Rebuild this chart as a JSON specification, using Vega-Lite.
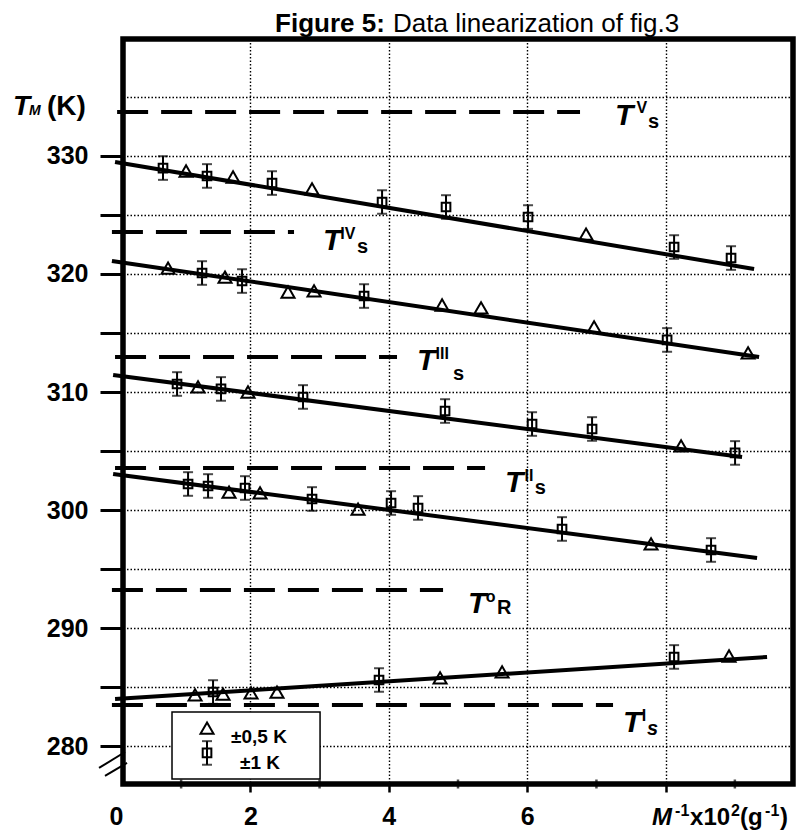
{
  "$schema": "https://vega.github.io/schema/vega-lite/v6.json",
  "width": 670,
  "height": 745,
  "autosize": {"type": "none"},
  "padding": {"left": 123, "top": 39, "right": 3, "bottom": 55},
  "background": "white",
  "config": {
    "view": {"stroke": "black", "strokeWidth": 5.5},
    "font": "Liberation Sans",
    "axis": {
      "domain": false,
      "grid": true,
      "gridColor": "black",
      "gridDash": [1.5, 2],
      "gridWidth": 1.4,
      "tickColor": "black",
      "labelColor": "black",
      "labelFont": "Liberation Sans",
      "labelFontWeight": "bold",
      "labelFontSize": 25,
      "labelFlush": false,
      "labelOverlap": false
    },
    "text": {"font": "Liberation Sans", "color": "black"}
  },
  "datasets": {
    "fits": [
      {"g": 1, "x": 0.045, "y": 329.48}, {"g": 1, "x": 9.278, "y": 320.42},
      {"g": 2, "x": 0.0, "y": 321.10}, {"g": 2, "x": 9.350, "y": 312.97},
      {"g": 3, "x": 0.017, "y": 311.44}, {"g": 3, "x": 9.104, "y": 304.50},
      {"g": 4, "x": 0.017, "y": 303.06}, {"g": 4, "x": 9.321, "y": 295.94},
      {"g": 5, "x": 0.045, "y": 284.00}, {"g": 5, "x": 9.465, "y": 287.56}
    ],
    "dashes": [
      {"x": 0.075, "x2": 6.763, "y": 333.72},
      {"x": 0.0, "x2": 2.631, "y": 323.55},
      {"x": 0.045, "x2": 4.119, "y": 312.97},
      {"x": 0.045, "x2": 5.391, "y": 303.57},
      {"x": 0.0, "x2": 4.784, "y": 293.23},
      {"x": 0.0, "x2": 7.240, "y": 283.49}
    ],
    "squares": [
      {"x": 0.738, "y": 328.97, "lo": 327.97, "hi": 329.97},
      {"x": 1.374, "y": 328.30, "lo": 327.30, "hi": 329.30},
      {"x": 2.313, "y": 327.70, "lo": 326.70, "hi": 328.70},
      {"x": 3.903, "y": 326.09, "lo": 325.09, "hi": 327.09},
      {"x": 4.827, "y": 325.67, "lo": 324.67, "hi": 326.67},
      {"x": 6.012, "y": 324.82, "lo": 323.82, "hi": 325.82},
      {"x": 8.122, "y": 322.28, "lo": 321.28, "hi": 323.28},
      {"x": 8.945, "y": 321.35, "lo": 320.35, "hi": 322.35},
      {"x": 1.302, "y": 320.08, "lo": 319.08, "hi": 321.08},
      {"x": 1.880, "y": 319.40, "lo": 318.40, "hi": 320.40},
      {"x": 3.643, "y": 318.13, "lo": 317.13, "hi": 319.13},
      {"x": 8.021, "y": 314.41, "lo": 313.41, "hi": 315.41},
      {"x": 0.941, "y": 310.68, "lo": 309.68, "hi": 311.68},
      {"x": 1.576, "y": 310.26, "lo": 309.26, "hi": 311.26},
      {"x": 2.761, "y": 309.58, "lo": 308.58, "hi": 310.58},
      {"x": 4.813, "y": 308.39, "lo": 307.39, "hi": 309.39},
      {"x": 6.070, "y": 307.29, "lo": 306.29, "hi": 308.29},
      {"x": 6.937, "y": 306.87, "lo": 305.87, "hi": 307.87},
      {"x": 9.003, "y": 304.84, "lo": 303.84, "hi": 305.84},
      {"x": 1.100, "y": 302.21, "lo": 301.21, "hi": 303.21},
      {"x": 1.389, "y": 302.04, "lo": 301.04, "hi": 303.04},
      {"x": 1.923, "y": 301.87, "lo": 300.87, "hi": 302.87},
      {"x": 2.891, "y": 300.94, "lo": 299.94, "hi": 301.94},
      {"x": 4.033, "y": 300.60, "lo": 299.60, "hi": 301.60},
      {"x": 4.423, "y": 300.18, "lo": 299.18, "hi": 301.18},
      {"x": 6.503, "y": 298.40, "lo": 297.40, "hi": 299.40},
      {"x": 8.656, "y": 296.62, "lo": 295.62, "hi": 297.62},
      {"x": 1.461, "y": 284.59, "lo": 283.59, "hi": 285.59},
      {"x": 3.859, "y": 285.61, "lo": 284.61, "hi": 286.61},
      {"x": 8.122, "y": 287.56, "lo": 286.56, "hi": 288.56},
      {"x": 1.374, "y": 279.43, "lo": 278.43, "hi": 280.43}
    ],
    "triangles": [
      {"x": 1.071, "y": 328.72}, {"x": 1.750, "y": 328.21}, {"x": 2.891, "y": 327.20}, {"x": 6.850, "y": 323.38},
      {"x": 0.811, "y": 320.50}, {"x": 1.634, "y": 319.74}, {"x": 2.544, "y": 318.47}, {"x": 2.920, "y": 318.56},
      {"x": 4.770, "y": 317.37}, {"x": 5.333, "y": 317.12}, {"x": 6.966, "y": 315.51}, {"x": 9.191, "y": 313.31},
      {"x": 1.244, "y": 310.43}, {"x": 1.966, "y": 310.00}, {"x": 8.223, "y": 305.43},
      {"x": 1.692, "y": 301.53}, {"x": 2.140, "y": 301.45}, {"x": 3.556, "y": 300.09}, {"x": 7.789, "y": 297.13},
      {"x": 1.201, "y": 284.34}, {"x": 1.605, "y": 284.42}, {"x": 2.010, "y": 284.51}, {"x": 2.385, "y": 284.59},
      {"x": 4.741, "y": 285.78}, {"x": 5.637, "y": 286.29}, {"x": 8.916, "y": 287.64},
      {"x": 1.374, "y": 281.54}
    ],
    "legendBox": [{"x": 0.868, "x2": 3.007, "y": 282.90, "y2": 277.23}],
    "legendText": [
      {"text": "±0,5 K", "x": 2.125, "y": 280.78},
      {"text": "±1 K", "x": 2.140, "y": 278.58}
    ],
    "titleBold": [{"text": "Figure 5:", "x": 2.357, "y": 340.49}],
    "titlePlain": [{"text": "Data linearization of fig.3", "x": 4.062, "y": 340.49}],
    "bigT": [
      {"text": "T", "x": 7.269, "y": 332.62},
      {"text": "T", "x": 3.050, "y": 322.03},
      {"text": "T", "x": 4.408, "y": 311.87},
      {"text": "T", "x": 5.680, "y": 301.53},
      {"text": "T", "x": 5.145, "y": 291.29},
      {"text": "T", "x": 7.385, "y": 281.21}
    ],
    "sups": [
      {"text": "V", "x": 7.580, "y": 333.63},
      {"text": "IV", "x": 3.300, "y": 322.96},
      {"text": "III", "x": 4.675, "y": 312.80},
      {"text": "II", "x": 5.960, "y": 302.47},
      {"text": "o", "x": 5.400, "y": 292.22},
      {"text": "I", "x": 7.655, "y": 282.14},
      {"text": "-1", "x": 8.136, "y": 274.09},
      {"text": "2", "x": 8.945, "y": 274.09},
      {"text": "-1", "x": 9.437, "y": 274.09}
    ],
    "subs": [
      {"text": "s", "x": 7.746, "y": 332.36},
      {"text": "s", "x": 3.542, "y": 321.78},
      {"text": "s", "x": 4.929, "y": 311.02},
      {"text": "s", "x": 6.110, "y": 301.36},
      {"text": "R", "x": 5.564, "y": 291.20}
    ],
    "subsItalic": [{"text": "s", "x": 7.732, "y": 280.95}],
    "yTitleT": [{"text": "T", "x": -1.429, "y": 333.46}],
    "yTitleM": [{"text": "M", "x": -1.198, "y": 333.46}],
    "yTitleK": [{"text": "(K)", "x": -0.938, "y": 333.46}],
    "xTitleItalic": [{"text": "M", "x": 7.804, "y": 273.33}],
    "xTitleBold": [
      {"text": "x10", "x": 8.353, "y": 273.33},
      {"text": "(g", "x": 9.075, "y": 273.33},
      {"text": ")", "x": 9.653, "y": 273.33}
    ],
    "breaks": [
      {"x": -0.186, "y": 278.16, "x2": 0.189, "y2": 279.51},
      {"x": -0.100, "y": 277.48, "x2": 0.218, "y2": 278.58}
    ],
    "minorTicks": [
      {"x": 1, "y": 276.8}, {"x": 3, "y": 276.8}, {"x": 5, "y": 276.8}, {"x": 7, "y": 276.8}, {"x": 9, "y": 276.8}
    ]
  },
  "layer": [
    {
      "data": {"name": "fits"},
      "mark": {"type": "line", "color": "black", "strokeWidth": 4},
      "encoding": {
        "x": {
          "field": "x", "type": "quantitative",
          "scale": {"domain": [0.16, 9.84], "nice": false, "zero": false},
          "axis": {
            "title": null,
            "values": [0.16, 2, 4, 6, 8],
            "labelExpr": "datum.value < 1 ? '0' : (datum.value > 7 ? '' : format(datum.value, 'd'))",
            "tickSize": 8,
            "tickWidth": 2.5,
            "labelPadding": 12,
            "labelAlign": {"condition": {"test": "datum.value < 1", "value": "right"}, "value": "center"},
            "gridOpacity": {"condition": {"test": "datum.value < 1", "value": 0}, "value": 1},
            "tickOpacity": {"condition": {"test": "datum.value < 1", "value": 0}, "value": 1}
          }
        },
        "y": {
          "field": "y", "type": "quantitative",
          "scale": {"domain": [276.8, 339.9], "nice": false, "zero": false},
          "axis": {
            "title": null,
            "values": [280, 285, 290, 295, 300, 305, 310, 315, 320, 325, 330, 335],
            "labelExpr": "(datum.value % 10 == 0 && datum.value < 333) ? datum.label : ''",
            "tickSize": 23,
            "tickWidth": 3,
            "labelPadding": 12,
            "labelBaseline": "middle",
            "tickOpacity": {"condition": {"test": "datum.value > 333", "value": 0}, "value": 1}
          }
        },
        "detail": {"field": "g", "type": "nominal"}
      }
    },
    {
      "data": {"name": "dashes"},
      "mark": {"type": "rule", "color": "black", "strokeWidth": 4, "strokeDash": [31, 13]},
      "encoding": {
        "x": {"field": "x", "type": "quantitative"},
        "x2": {"field": "x2"},
        "y": {"field": "y", "type": "quantitative"}
      }
    },
    {
      "data": {"name": "legendBox"},
      "mark": {"type": "rect", "fill": "white", "stroke": "black", "strokeWidth": 1.5},
      "encoding": {
        "x": {"field": "x", "type": "quantitative"},
        "x2": {"field": "x2"},
        "y": {"field": "y", "type": "quantitative"},
        "y2": {"field": "y2"}
      }
    },
    {
      "data": {"name": "squares"},
      "mark": {"type": "rule", "color": "black", "strokeWidth": 2},
      "encoding": {
        "x": {"field": "x", "type": "quantitative"},
        "y": {"field": "lo", "type": "quantitative"},
        "y2": {"field": "hi"}
      }
    },
    {
      "data": {"name": "squares"},
      "mark": {"type": "tick", "orient": "horizontal", "color": "black", "size": 10, "thickness": 2},
      "encoding": {
        "x": {"field": "x", "type": "quantitative"},
        "y": {"field": "lo", "type": "quantitative"}
      }
    },
    {
      "data": {"name": "squares"},
      "mark": {"type": "tick", "orient": "horizontal", "color": "black", "size": 10, "thickness": 2},
      "encoding": {
        "x": {"field": "x", "type": "quantitative"},
        "y": {"field": "hi", "type": "quantitative"}
      }
    },
    {
      "data": {"name": "squares"},
      "mark": {"type": "point", "shape": "square", "filled": false, "stroke": "black", "strokeWidth": 2, "size": 75, "opacity": 1},
      "encoding": {
        "x": {"field": "x", "type": "quantitative"},
        "y": {"field": "y", "type": "quantitative"}
      }
    },
    {
      "data": {"name": "triangles"},
      "mark": {"type": "point", "shape": "triangle-up", "filled": false, "stroke": "black", "strokeWidth": 2, "size": 170, "opacity": 1},
      "encoding": {
        "x": {"field": "x", "type": "quantitative"},
        "y": {"field": "y", "type": "quantitative"}
      }
    },
    {
      "data": {"name": "breaks"},
      "mark": {"type": "rule", "color": "black", "strokeWidth": 2},
      "encoding": {
        "x": {"field": "x", "type": "quantitative"},
        "y": {"field": "y", "type": "quantitative"},
        "x2": {"field": "x2"},
        "y2": {"field": "y2"}
      }
    },
    {
      "data": {"name": "minorTicks"},
      "mark": {"type": "tick", "orient": "vertical", "color": "black", "size": 9, "thickness": 2.5},
      "encoding": {
        "x": {"field": "x", "type": "quantitative"},
        "y": {"field": "y", "type": "quantitative"}
      }
    },
    {
      "data": {"name": "legendText"},
      "mark": {"type": "text", "fontSize": 19, "fontWeight": "bold", "align": "center", "baseline": "middle"},
      "encoding": {
        "x": {"field": "x", "type": "quantitative"},
        "y": {"field": "y", "type": "quantitative"},
        "text": {"field": "text"}
      }
    },
    {
      "data": {"name": "titleBold"},
      "mark": {"type": "text", "fontSize": 26, "fontWeight": "bold", "align": "left", "baseline": "alphabetic"},
      "encoding": {
        "x": {"field": "x", "type": "quantitative"},
        "y": {"field": "y", "type": "quantitative"},
        "text": {"field": "text"}
      }
    },
    {
      "data": {"name": "titlePlain"},
      "mark": {"type": "text", "fontSize": 26, "fontWeight": "normal", "align": "left", "baseline": "alphabetic"},
      "encoding": {
        "x": {"field": "x", "type": "quantitative"},
        "y": {"field": "y", "type": "quantitative"},
        "text": {"field": "text"}
      }
    },
    {
      "data": {"name": "bigT"},
      "mark": {"type": "text", "fontSize": 30, "fontWeight": "bold", "fontStyle": "italic", "align": "left", "baseline": "alphabetic"},
      "encoding": {
        "x": {"field": "x", "type": "quantitative"},
        "y": {"field": "y", "type": "quantitative"},
        "text": {"field": "text"}
      }
    },
    {
      "data": {"name": "sups"},
      "mark": {"type": "text", "fontSize": 16, "fontWeight": "bold", "align": "left", "baseline": "alphabetic"},
      "encoding": {
        "x": {"field": "x", "type": "quantitative"},
        "y": {"field": "y", "type": "quantitative"},
        "text": {"field": "text"}
      }
    },
    {
      "data": {"name": "subs"},
      "mark": {"type": "text", "fontSize": 20, "fontWeight": "bold", "align": "left", "baseline": "alphabetic"},
      "encoding": {
        "x": {"field": "x", "type": "quantitative"},
        "y": {"field": "y", "type": "quantitative"},
        "text": {"field": "text"}
      }
    },
    {
      "data": {"name": "subsItalic"},
      "mark": {"type": "text", "fontSize": 20, "fontWeight": "bold", "fontStyle": "italic", "align": "left", "baseline": "alphabetic"},
      "encoding": {
        "x": {"field": "x", "type": "quantitative"},
        "y": {"field": "y", "type": "quantitative"},
        "text": {"field": "text"}
      }
    },
    {
      "data": {"name": "yTitleT"},
      "mark": {"type": "text", "fontSize": 28, "fontWeight": "bold", "fontStyle": "italic", "align": "left", "baseline": "alphabetic"},
      "encoding": {
        "x": {"field": "x", "type": "quantitative"},
        "y": {"field": "y", "type": "quantitative"},
        "text": {"field": "text"}
      }
    },
    {
      "data": {"name": "yTitleM"},
      "mark": {"type": "text", "fontSize": 14, "fontWeight": "bold", "fontStyle": "italic", "align": "left", "baseline": "alphabetic"},
      "encoding": {
        "x": {"field": "x", "type": "quantitative"},
        "y": {"field": "y", "type": "quantitative"},
        "text": {"field": "text"}
      }
    },
    {
      "data": {"name": "yTitleK"},
      "mark": {"type": "text", "fontSize": 28, "fontWeight": "bold", "align": "left", "baseline": "alphabetic"},
      "encoding": {
        "x": {"field": "x", "type": "quantitative"},
        "y": {"field": "y", "type": "quantitative"},
        "text": {"field": "text"}
      }
    },
    {
      "data": {"name": "xTitleItalic"},
      "mark": {"type": "text", "fontSize": 24, "fontWeight": "bold", "fontStyle": "italic", "align": "left", "baseline": "alphabetic"},
      "encoding": {
        "x": {"field": "x", "type": "quantitative"},
        "y": {"field": "y", "type": "quantitative"},
        "text": {"field": "text"}
      }
    },
    {
      "data": {"name": "xTitleBold"},
      "mark": {"type": "text", "fontSize": 24, "fontWeight": "bold", "align": "left", "baseline": "alphabetic"},
      "encoding": {
        "x": {"field": "x", "type": "quantitative"},
        "y": {"field": "y", "type": "quantitative"},
        "text": {"field": "text"}
      }
    }
  ]
}
